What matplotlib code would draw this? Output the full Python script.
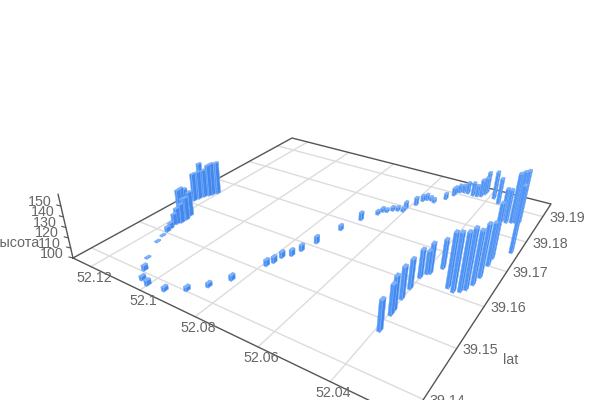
import numpy as np
import matplotlib
matplotlib.use('Agg')
import matplotlib.pyplot as plt
from matplotlib.collections import PolyCollection

plt.rcParams['font.family'] = ['Liberation Sans', 'DejaVu Sans']

# route points
lon = [52.1031, 52.1001, 52.1061, 52.1100, 52.1142, 52.1154, 52.0944, 52.0895, 52.0858, 52.0826,
       52.0789, 52.0781, 52.0777, 52.0759, 52.0750, 52.0736, 52.0715, 52.0693, 52.0665, 52.0660,
       52.0648, 52.0636, 52.0622, 52.0605, 52.0606, 52.0588, 52.0581, 52.0572, 52.0559, 52.0545,
       52.0521, 52.1161, 52.1166, 52.1174, 52.1170, 52.1164, 52.1164, 52.1172, 52.1216, 52.1218,
       52.1219, 52.1196, 52.1234, 52.1230, 52.1225, 52.1268, 52.1217, 52.1212, 52.1203, 52.0390,
       52.0395, 52.0396, 52.0401, 52.0402, 52.0401, 52.0393, 52.0386, 52.0366, 52.0319,
       52.0301, 52.0286, 52.0276, 52.0268, 52.0264, 52.0265,
       52.0267, 52.0508, 52.0508, 52.0499, 52.0487, 52.0473, 52.0453, 52.0439, 52.0427, 52.0421,
       52.0420, 52.0385, 52.0361, 52.0313, 52.0299, 52.0285, 52.0277, 52.0272, 52.0264, 52.0231]
lat = [39.1386, 39.1381, 39.1405, 39.1430, 39.1472, 39.1490, 39.1385, 39.1403, 39.1427, 39.1458,
       39.1516, 39.1529, 39.1547, 39.1560, 39.1580, 39.1612, 39.1669, 39.1717, 39.1750, 39.1764,
       39.1767, 39.1777, 39.1782, 39.1784, 39.1797, 39.1819, 39.1840, 39.1848, 39.1850, 39.1846,
       39.1870, 39.1505, 39.1515, 39.1528, 39.1533, 39.1540, 39.1552, 39.1566, 39.1563, 39.1571,
       39.1580, 39.1562, 39.1611, 39.1622, 39.1633, 39.1647, 39.1641, 39.1647, 39.1656, 39.1478,
       39.1515, 39.1525, 39.1555, 39.1583, 39.1616, 39.1631, 39.1634, 39.1657, 39.1615,
       39.1610, 39.1616, 39.1625, 39.1642, 39.1665, 39.1702,
       39.1724, 39.1892, 39.1902, 39.1910, 39.1914, 39.1914, 39.1911, 39.1912, 39.1916, 39.1928,
       39.1938, 39.1921, 39.1906, 39.1849, 39.1846, 39.1851, 39.1854, 39.1855, 39.1858, 39.1757]
height = [104, 105, 105, 101, 101, 101, 104, 104, 104, 105,
          106, 106, 106, 106, 106, 107, 105, 108, 104, 104,
          103, 104, 104, 104, 107, 108, 106, 106, 104, 104,
          106, 105, 106, 111, 116, 119, 123, 125, 124, 124,
          121, 117, 129, 129, 129, 130, 133, 134, 134, 128,
          128, 132, 130, 128, 127, 122, 129, 128, 151,
          154, 154, 156, 150, 150, 141,
          153, 108, 107, 108, 108, 112, 114, 112, 118, 118,
          122, 129, 127, 133, 134, 150, 151, 152, 153, 164]

lon_ticks = [52.12, 52.1, 52.08, 52.06, 52.04]
lat_ticks = [39.14, 39.15, 39.16, 39.17, 39.18, 39.19]
z_ticks = [100, 110, 120, 130, 140, 150]

lon_max, lon_min = 52.128, 52.021
lat_min, lat_max = 39.1365, 39.1955
z_min, z_max = 100, 160.5

# floor corners on screen and the point vertical lines run to
corners_world = [(lon_max, lat_min), (lon_min, lat_min), (lon_min, lat_max), (lon_max, lat_max)]
corners_px = [(73, 258), (410, 420), (551, 204), (292, 138)]
nadir = np.array([297.0, 1214.0, 1.0])

A, b = [], []
for (u, v), (x, y) in zip(corners_world, corners_px):
    u0, v0 = u - lon_min, v - lat_min
    A.append([u0, v0, 1, 0, 0, 0, -x * u0, -x * v0])
    b.append(x)
    A.append([0, 0, 0, u0, v0, 1, -y * u0, -y * v0])
    b.append(y)
H = np.append(np.linalg.solve(np.array(A, float), np.array(b, float)), 1.0).reshape(3, 3)
zscale = (H @ np.array([lon_max - lon_min, 0, 1]))[2] * 0.0010317


def project(lo, la, z=100.0):
    p = H @ np.array([lo - lon_min, la - lat_min, 1.0]) - zscale * (z - z_min) * nadir
    return p[0] / p[2], p[1] / p[2]


def depth(lo, la):
    return (H @ np.array([lo - lon_min, la - lat_min, 1.0]))[2]


fig = plt.figure(figsize=(6, 4), dpi=100)
ax = fig.add_axes([0, 0, 1, 1])
ax.set_xlim(0, 600)
ax.set_ylim(400, 0)
ax.axis('off')

grid_color = '#dcdcdc'
axis_color = '#555555'
text_color = '#666666'
font_size = 10.3

for t in lon_ticks:
    p, q = project(t, lat_min), project(t, lat_max)
    ax.plot([p[0], q[0]], [p[1], q[1]], color=grid_color, lw=1.0, zorder=1)
    ax.text(p[0] + 3, p[1] + 11, str(t), color=text_color, fontsize=font_size, ha='center', va='center', zorder=5)
for t in lat_ticks:
    p, q = project(lon_min, t), project(lon_max, t)
    ax.plot([p[0], q[0]], [p[1], q[1]], color=grid_color, lw=1.0, zorder=1)
    ax.text(p[0] + 24, p[1] + 1.5, str(t), color=text_color, fontsize=font_size, ha='center', va='center', zorder=5)

outline = [project(*c) for c in corners_world]
outline.append(outline[0])
ax.plot([p[0] for p in outline], [p[1] for p in outline], color=axis_color, lw=1.0, zorder=2)

p, q = project(lon_max, lat_min, z_min), project(lon_max, lat_min, z_max)
ax.plot([p[0], q[0]], [p[1], q[1]], color=axis_color, lw=1.0, zorder=2)
for t in z_ticks:
    p = project(lon_max, lat_min, t)
    ax.plot([p[0], p[0] - 4], [p[1], p[1] - 1], color=axis_color, lw=0.8, zorder=2)
    ax.text(p[0] - 21, p[1] - 4.5, str(t), color=text_color, fontsize=font_size, ha='center', va='center', zorder=5)

ax.text(39.5, 243, 'высота', color=text_color, fontsize=font_size, ha='right', va='center', zorder=4)
ax.text(511, 360, 'lat', color=text_color, fontsize=font_size, ha='center', va='center', zorder=5)

# bars, far ones first
half = 0.00045
polys, faces = [], []
for i in sorted(range(len(lon)), key=lambda k: -depth(lon[k], lat[k])):
    lo, la, z = lon[i], lat[i], height[i]
    x0, x1 = lo - half, lo + half
    y0, y1 = la - half, la + half
    polys.append([project(x0, y0), project(x1, y0), project(x1, y0, z), project(x0, y0, z)])
    faces.append('#4f96f7')
    polys.append([project(x0, y0), project(x0, y1), project(x0, y1, z), project(x0, y0, z)])
    faces.append('#4488ee')
    polys.append([project(x0, y0, z), project(x1, y0, z), project(x1, y1, z), project(x0, y1, z)])
    faces.append('#7fb2fb')
bars = PolyCollection(polys, facecolors=faces, edgecolors='#78adf9', linewidths=0.35, zorder=3)
ax.add_collection(bars)

fig.savefig('out.png', dpi=100)
